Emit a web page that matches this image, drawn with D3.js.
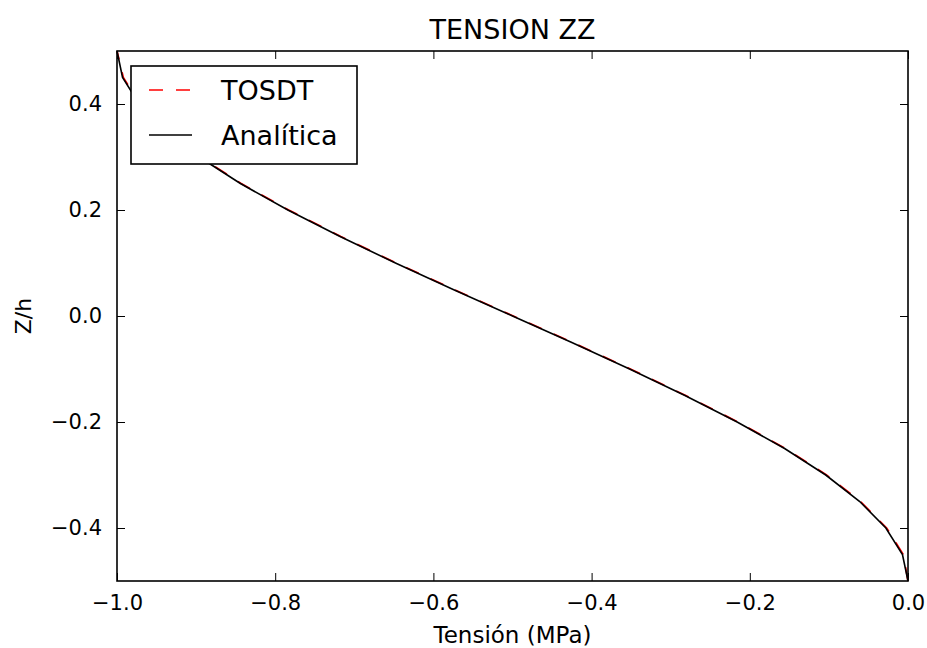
<!DOCTYPE html>
<html>
<head>
<meta charset="utf-8">
<script src="https://cdn.jsdelivr.net/npm/d3@7"></script>
<style>
  body { margin: 0; background: #fff; }
  text { font-family: "DejaVu Sans", sans-serif; fill: #000; }
</style>
</head>
<body>
<svg id="chart"></svg>
<script>
let width = 927, height = 648;
let margin = {top: 51, right: 19, bottom: 67, left: 117};

// z/h positions (shared by both series)
let zh = [-0.5, -0.45, -0.4, -0.35, -0.3, -0.25, -0.2, -0.15, -0.1, -0.05, 0,
          0.05, 0.1, 0.15, 0.2, 0.25, 0.3, 0.35, 0.4, 0.45, 0.5];
// stress values (MPa)
let tosdt = [0, -0.006, -0.027, -0.060, -0.103, -0.155, -0.215, -0.281, -0.351, -0.424, -0.499,
             -0.574, -0.647, -0.717, -0.783, -0.843, -0.895, -0.938, -0.971, -0.992, -1.0];
let analitica = [0, -0.007, -0.028, -0.061, -0.104, -0.156, -0.216, -0.282, -0.352, -0.425, -0.5,
                 -0.575, -0.648, -0.718, -0.784, -0.844, -0.896, -0.939, -0.972, -0.993, -1.0];

let xTicks = [-1.0, -0.8, -0.6, -0.4, -0.2, 0.0];
let yTicks = [-0.4, -0.2, 0.0, 0.2, 0.4];
let seriesNames = ["TOSDT", "Analítica"];

let svg = d3.select("#chart")
  .attr("width", width)
  .attr("height", height);

let iw = width - margin.left - margin.right;
let ih = height - margin.top - margin.bottom;

let x = d3.scaleLinear().domain([-1, 0]).range([margin.left, margin.left + iw]);
let y = d3.scaleLinear().domain([-0.5, 0.5]).range([margin.top + ih, margin.top]);

let fmt = (d) => d3.format(".1f")(d).replace("-", "\u2212");

// ticks point inward on all four sides (classic matplotlib)
const tickLen = 8;
let axB = svg.append("g").attr("transform", "translate(0," + (margin.top + ih) + ")")
  .call(d3.axisBottom(x).tickValues(xTicks).tickSize(-tickLen).tickPadding(14).tickFormat(fmt));
let axT = svg.append("g").attr("transform", "translate(0," + margin.top + ")")
  .call(d3.axisTop(x).tickValues(xTicks).tickSize(-tickLen).tickFormat(""));
let axL = svg.append("g").attr("transform", "translate(" + margin.left + ",0)")
  .call(d3.axisLeft(y).tickValues(yTicks).tickSize(-tickLen).tickPadding(15).tickFormat(fmt));
let axR = svg.append("g").attr("transform", "translate(" + (margin.left + iw) + ",0)")
  .call(d3.axisRight(y).tickValues(yTicks).tickSize(-tickLen).tickFormat(""));

[axB, axT, axL, axR].forEach((g) => {
  g.select(".domain").remove();
  g.selectAll(".tick line").attr("stroke", "#000").attr("stroke-width", 1);
  g.selectAll(".tick text")
    .style("font-family", "'DejaVu Sans', sans-serif")
    .style("font-size", "21px")
    .attr("fill", "#111");
});

let line = (vals) => d3.line()
  .x((d, i) => x(vals[i]))
  .y((d) => y(d))(zh);

// red dashed underneath, black on top
svg.append("path")
  .attr("d", line(tosdt))
  .attr("fill", "none")
  .attr("stroke", "#ff0000")
  .attr("stroke-width", 1.7)
  .attr("stroke-dasharray", "14,13");

svg.append("path")
  .attr("d", line(analitica))
  .attr("fill", "none")
  .attr("stroke", "#000")
  .attr("stroke-width", 1.6);

// frame
svg.append("rect")
  .attr("x", margin.left).attr("y", margin.top)
  .attr("width", iw).attr("height", ih)
  .attr("fill", "none")
  .attr("stroke", "#000")
  .attr("stroke-width", 1.6);

// title and axis labels
svg.append("text")
  .attr("x", margin.left + iw / 2).attr("y", 39)
  .attr("text-anchor", "middle")
  .style("font-size", "27px")
  .text("TENSION ZZ");

svg.append("text")
  .attr("x", margin.left + iw / 2).attr("y", 643)
  .attr("text-anchor", "middle")
  .style("font-size", "23px")
  .text("Tensión (MPa)");

svg.append("text")
  .attr("transform", "translate(31," + (margin.top + ih / 2) + ") rotate(-90)")
  .attr("text-anchor", "middle")
  .style("font-size", "22px")
  .text("Z/h");

// legend
let lg = svg.append("g");
lg.append("rect")
  .attr("x", 131).attr("y", 66)
  .attr("width", 226).attr("height", 98)
  .attr("fill", "#fff")
  .attr("stroke", "#000")
  .attr("stroke-width", 1.6);

let legendRows = [
  {name: seriesNames[0], color: "#ff0000", dash: "14,13", y: 90},
  {name: seriesNames[1], color: "#000", dash: null, y: 135}
];
legendRows.forEach((r) => {
  lg.append("line")
    .attr("x1", 149).attr("x2", 192)
    .attr("y1", r.y).attr("y2", r.y)
    .attr("stroke", r.color)
    .attr("stroke-width", 1.6)
    .attr("stroke-dasharray", r.dash);
  lg.append("text")
    .attr("x", 221).attr("y", r.y)
    .attr("dy", "0.36em")
    .style("font-size", "27px")
    .text(r.name);
});
</script>
</body>
</html>
